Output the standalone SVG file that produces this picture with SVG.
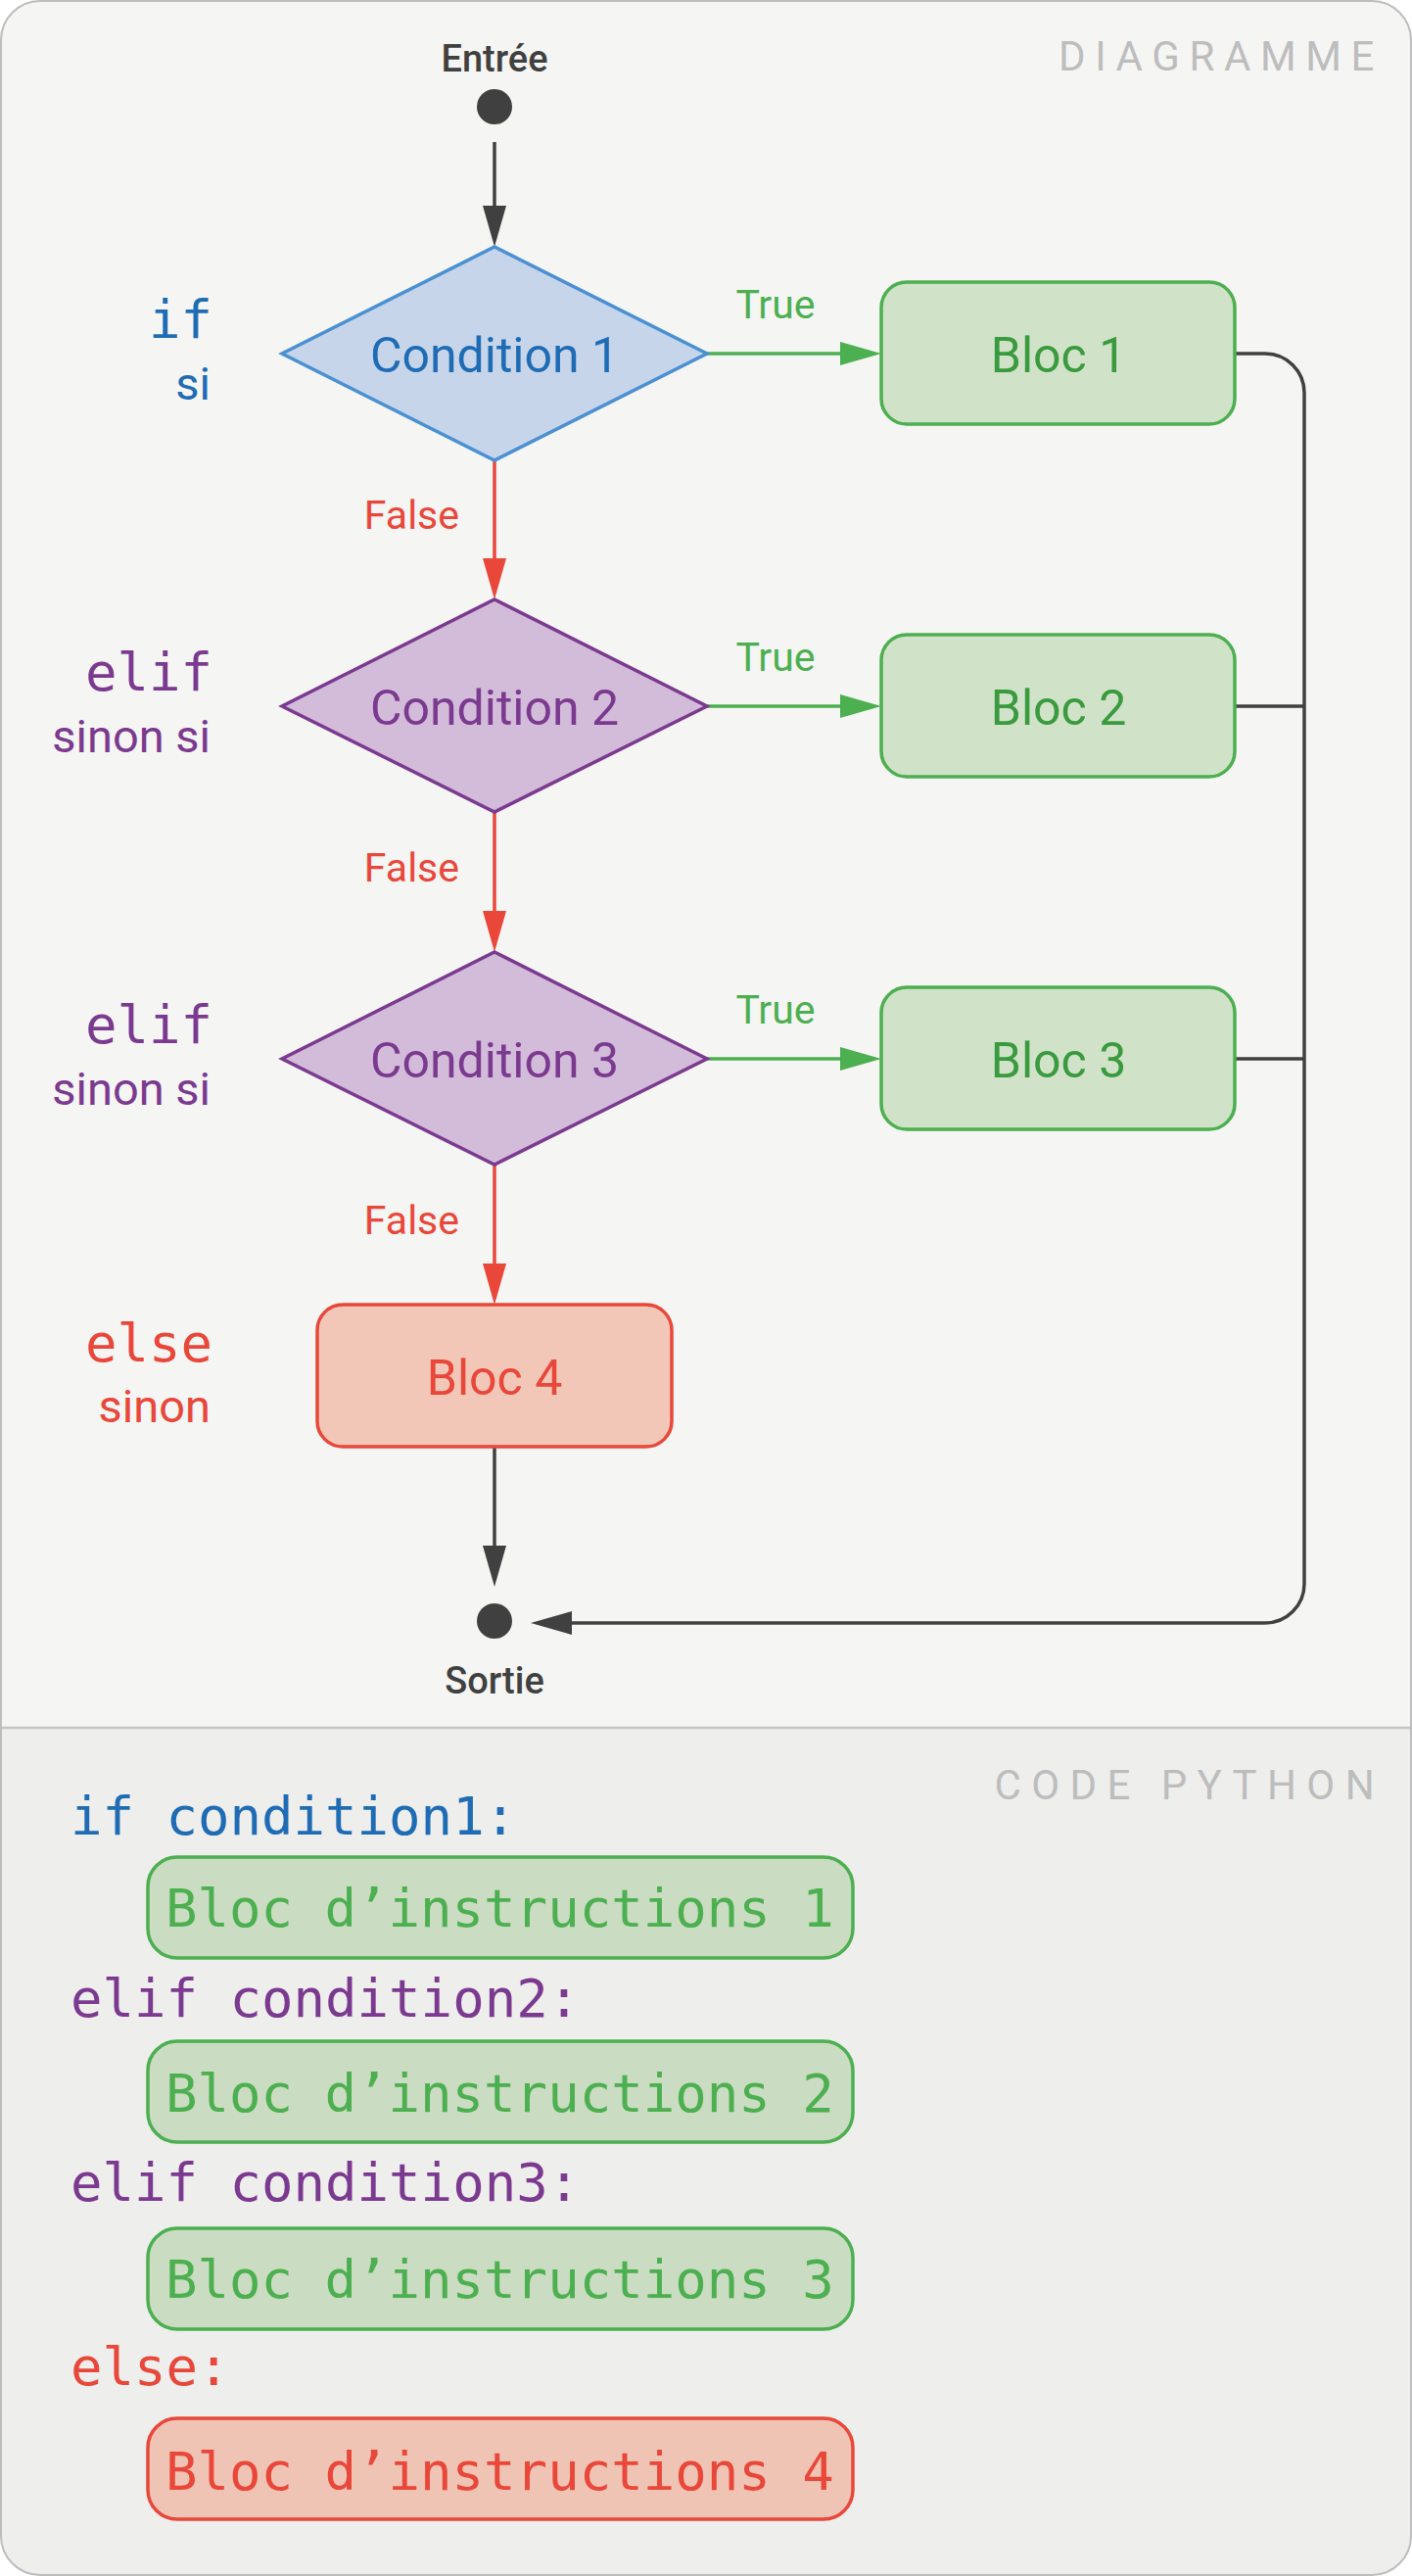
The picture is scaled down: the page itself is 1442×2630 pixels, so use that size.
<svg xmlns="http://www.w3.org/2000/svg" width="1442" height="2630" viewBox="0 0 1442 2630">
<defs>
<style>
.sans{font-family:Roboto,'Liberation Sans',Arial,sans-serif;font-weight:400}
.mono{font-family:'DejaVu Sans Mono','Liberation Mono',monospace}
.nlbl{font-size:50px;text-anchor:middle}
.elbl{font-size:41px}
.kw{font-size:54px;text-anchor:end}
.fr{font-size:47px;text-anchor:end}
.code{font-size:54px}
.term{font-size:38px;font-weight:500;text-anchor:middle;fill:#404040}
.title{font-size:42px;letter-spacing:9.6px;text-anchor:end;fill:#bdbdbd}
.edge{fill:none;stroke-width:3.5}
.blue{fill:#1f6cb5}
.purple{fill:#7b3a8f}
.red{fill:#e8473a}
.green{fill:#4caf50}
.dgreen{fill:#3a9a3e}
.bloc{fill:#d0e2c8;stroke:#4caf50;stroke-width:3.5}
.bloc4{fill:#f3c7b8;stroke:#e8473a;stroke-width:3.5}
.cbox{fill:#cadcc1;stroke:#4caf50;stroke-width:3.5}
.cbox4{fill:#f0c4b4;stroke:#e8473a;stroke-width:3.5}
</style>
<marker id="ahDark" markerUnits="userSpaceOnUse" markerWidth="42" markerHeight="24" refX="32" refY="12" orient="auto"><path d="M0,0 L42,12 L0,24 Z" fill="#404040"/></marker>
<marker id="ahRed" markerUnits="userSpaceOnUse" markerWidth="42" markerHeight="24" refX="32" refY="12" orient="auto"><path d="M0,0 L42,12 L0,24 Z" fill="#e8473a"/></marker>
<marker id="ahGreen" markerUnits="userSpaceOnUse" markerWidth="42" markerHeight="24" refX="32" refY="12" orient="auto"><path d="M0,0 L42,12 L0,24 Z" fill="#4caf50"/></marker>
</defs>

<g id="background">
<rect x="1" y="1" width="1440" height="2628" rx="40" fill="#f5f5f3"/>
<path d="M1,1764 H1441 V2589 A40,40 0 0 1 1401,2629 H41 A40,40 0 0 1 1,2589 Z" fill="#eeeeec"/>
<line x1="1" y1="1764" x2="1441" y2="1764" stroke="#c4c4c4" stroke-width="2.5"/>
<rect x="1" y="1" width="1440" height="2628" rx="40" fill="none" stroke="#bdbdbd" stroke-width="2"/>
<text class="sans title" x="1413" y="72">DIAGRAMME</text>
<text class="sans title" x="1414" y="1837" style="letter-spacing:10.4px">CODE PYTHON</text>
</g>

<g id="connectors">
<line class="edge" x1="505" y1="145" x2="505" y2="242" stroke="#404040" marker-end="url(#ahDark)"/>
<line class="edge" x1="505" y1="470" x2="505" y2="602" stroke="#e8473a" marker-end="url(#ahRed)"/>
<line class="edge" x1="505" y1="829" x2="505" y2="962" stroke="#e8473a" marker-end="url(#ahRed)"/>
<line class="edge" x1="505" y1="1189" x2="505" y2="1322" stroke="#e8473a" marker-end="url(#ahRed)"/>
<line class="edge" x1="722" y1="361" x2="890" y2="361" stroke="#4caf50" marker-end="url(#ahGreen)"/>
<line class="edge" x1="722" y1="721" x2="890" y2="721" stroke="#4caf50" marker-end="url(#ahGreen)"/>
<line class="edge" x1="722" y1="1081" x2="890" y2="1081" stroke="#4caf50" marker-end="url(#ahGreen)"/>
<line class="edge" x1="505" y1="1477" x2="505" y2="1610" stroke="#404040" marker-end="url(#ahDark)"/>
<path class="edge" d="M1261,361 H1292 A40,40 0 0 1 1332,401 V1617 A40,40 0 0 1 1292,1657 H552" stroke="#404040" marker-end="url(#ahDark)"/>
<line class="edge" x1="1261" y1="721" x2="1332" y2="721" stroke="#404040"/>
<line class="edge" x1="1261" y1="1081" x2="1332" y2="1081" stroke="#404040"/>
<text class="sans elbl red" x="469" y="540" text-anchor="end">False</text>
<text class="sans elbl red" x="469" y="900" text-anchor="end">False</text>
<text class="sans elbl red" x="469" y="1260" text-anchor="end">False</text>
<text class="sans elbl green" x="792" y="325" text-anchor="middle">True</text>
<text class="sans elbl green" x="792" y="685" text-anchor="middle">True</text>
<text class="sans elbl green" x="792" y="1045" text-anchor="middle">True</text>
</g>

<g id="entree">
<text class="sans term" x="505" y="73">Entrée</text>
<circle cx="505" cy="109" r="18" fill="#404040"/>
</g>

<g id="condition1">
<polygon points="505,252 722,361 505,470 288,361" fill="#c6d5ea" stroke="#4a90d2" stroke-width="3.5"/>
<text class="sans nlbl blue" x="505" y="380">Condition 1</text>
<text class="mono kw blue" x="217" y="345">if</text>
<text class="sans fr blue" x="215" y="408">si</text>
</g>

<g id="condition2">
<polygon points="505,612 722,721 505,829 288,721" fill="#d2bcd9" stroke="#7b3a8f" stroke-width="3.5"/>
<text class="sans nlbl purple" x="505" y="740">Condition 2</text>
<text class="mono kw purple" x="217" y="705">elif</text>
<text class="sans fr purple" x="215" y="768">sinon si</text>
</g>

<g id="condition3">
<polygon points="505,972 722,1081 505,1189 288,1081" fill="#d2bcd9" stroke="#7b3a8f" stroke-width="3.5"/>
<text class="sans nlbl purple" x="505" y="1100">Condition 3</text>
<text class="mono kw purple" x="217" y="1065">elif</text>
<text class="sans fr purple" x="215" y="1128">sinon si</text>
</g>

<g id="bloc1">
<rect class="bloc" x="900" y="288" width="361" height="145" rx="26"/>
<text class="sans nlbl dgreen" x="1081" y="380">Bloc 1</text>
</g>

<g id="bloc2">
<rect class="bloc" x="900" y="648" width="361" height="145" rx="26"/>
<text class="sans nlbl dgreen" x="1081" y="740">Bloc 2</text>
</g>

<g id="bloc3">
<rect class="bloc" x="900" y="1008" width="361" height="145" rx="26"/>
<text class="sans nlbl dgreen" x="1081" y="1100">Bloc 3</text>
</g>

<g id="bloc4">
<rect class="bloc4" x="324" y="1332" width="362" height="145" rx="26"/>
<text class="sans nlbl red" x="505" y="1424">Bloc 4</text>
<text class="mono kw red" x="217" y="1390">else</text>
<text class="sans fr red" x="215" y="1452">sinon</text>
</g>

<g id="sortie">
<circle cx="505" cy="1655" r="18" fill="#404040"/>
<text class="sans term" x="505" y="1729">Sortie</text>
</g>

<g id="code">
<text class="mono code blue" x="72" y="1873">if condition1:</text>
<rect class="cbox" x="151" y="1896" width="720" height="103" rx="30"/>
<text class="mono code green" x="169" y="1967">Bloc d’instructions 1</text>
<text class="mono code purple" x="72" y="2059">elif condition2:</text>
<rect class="cbox" x="151" y="2084" width="720" height="103" rx="30"/>
<text class="mono code green" x="169" y="2156">Bloc d’instructions 2</text>
<text class="mono code purple" x="72" y="2247">elif condition3:</text>
<rect class="cbox" x="151" y="2275" width="720" height="103" rx="30"/>
<text class="mono code green" x="169" y="2346">Bloc d’instructions 3</text>
<text class="mono code red" x="72" y="2435">else:</text>
<rect class="cbox4" x="151" y="2469" width="720" height="103" rx="30"/>
<text class="mono code red" x="169" y="2542">Bloc d’instructions 4</text>
</g>
</svg>
